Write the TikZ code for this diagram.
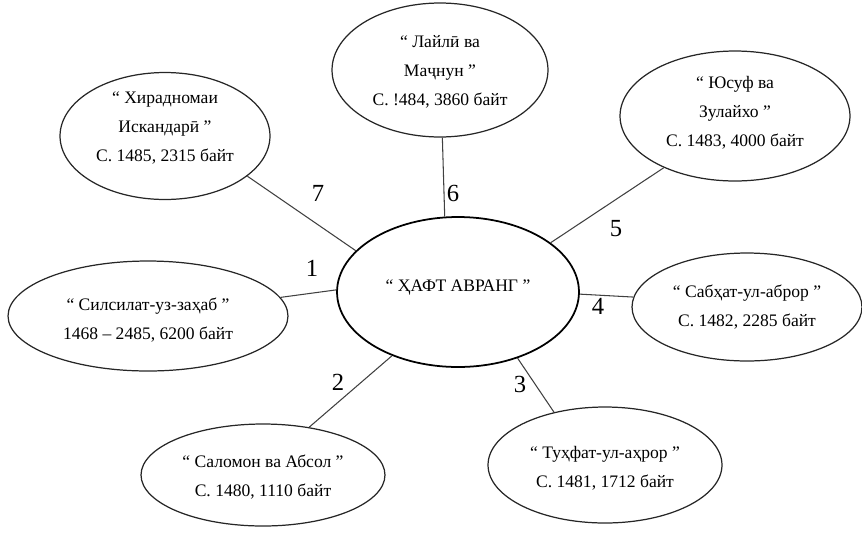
\documentclass[tikz,border=0pt]{standalone}
\usepackage{fontspec}
\setmainfont{Liberation Serif}
\usetikzlibrary{shapes.geometric}
\tikzset{
  book/.style={draw=black!85,line width=0.7pt,ellipse,inner sep=0pt},
  title/.style={align=center,font=\fontsize{10}{16.5}\selectfont},
  link/.style={draw=black!75,line width=0.6pt},
  num/.style={font=\fontsize{14}{16}\selectfont}
}
\begin{document}
\begin{tikzpicture}[x=0.02cm,y=-0.02cm]
\useasboundingbox (0,0) rectangle (862,535);
%\draw[step=50,gray,very thin] (0,0) grid (862,535); %background grid
\node[book,draw=black,line width=1pt,minimum width=4.84cm,minimum height=3cm] (ha) at (458,292) {}; %center
\node[book,minimum width=4.2cm,minimum height=2.54cm]  (hk) at (165,136) {}; %7
\node[book,minimum width=4.32cm,minimum height=2.68cm] (lm) at (440,70)  {}; %6
\node[book,minimum width=4.6cm,minimum height=2.6cm]   (yz) at (735,116) {}; %5
\node[book,minimum width=5.6cm,minimum height=2.2cm]   (sz) at (148,316) {}; %1
\node[book,minimum width=4.6cm,minimum height=2.16cm]  (sa) at (747,307) {}; %4
\node[book,minimum width=4.88cm,minimum height=2.04cm] (sb) at (263,475) {}; %2
\node[book,minimum width=4.68cm,minimum height=2.32cm] (ta) at (605,465) {}; %3
\node[title] (t0) at (458,288) {“ ҲАФТ АВРАНГ ”};
\node[title] (t7) at (165,128) {“ Хирадномаи\\Искандарӣ ”\\С. 1485, 2315 байт};
\node[title] (t6) at (440,72)  {“ Лайлӣ ва\\Маҷнун ”\\С. !484, 3860 байт};
\node[title] (t5) at (735,113) {“ Юсуф ва\\Зулайхо ”\\С. 1483, 4000 байт};
\node[title] (t1) at (148,320) {“ Силсилат-уз-заҳаб ”\\1468 – 2485, 6200 байт};
\node[title] (t4) at (747,307) {“ Сабҳат-ул-аброр ”\\С. 1482, 2285 байт};
\node[title] (t2) at (263,477) {“ Саломон ва Абсол ”\\С. 1480, 1110 байт};
\node[title] (t3) at (605,468) {“ Туҳфат-ул-аҳрор ”\\С. 1481, 1712 байт};
\draw[link] (hk.-26) -- (ha.158); %7
\draw[link] (lm.-88) -- (ha.100); %6
\draw[link] (yz.216) -- (ha.28);  %5
\draw[link] (sz.8)   -- (ha.179); %1
\draw[link] (ha.-1)  -- (sa.175); %4
\draw[link] (ha.224) -- (sb.46);  %2
\draw[link] (ha.-48) -- (ta.134); %3
\node[num] (n7) at (318,193) {7};
\node[num] (n6) at (453,193) {6};
\node[num] (n5) at (616,229) {5};
\node[num] (n1) at (312,268) {1};
\node[num] (n4) at (598,306) {4};
\node[num] (n2) at (338,382) {2};
\node[num] (n3) at (520,384) {3};
\end{tikzpicture}
\end{document}
